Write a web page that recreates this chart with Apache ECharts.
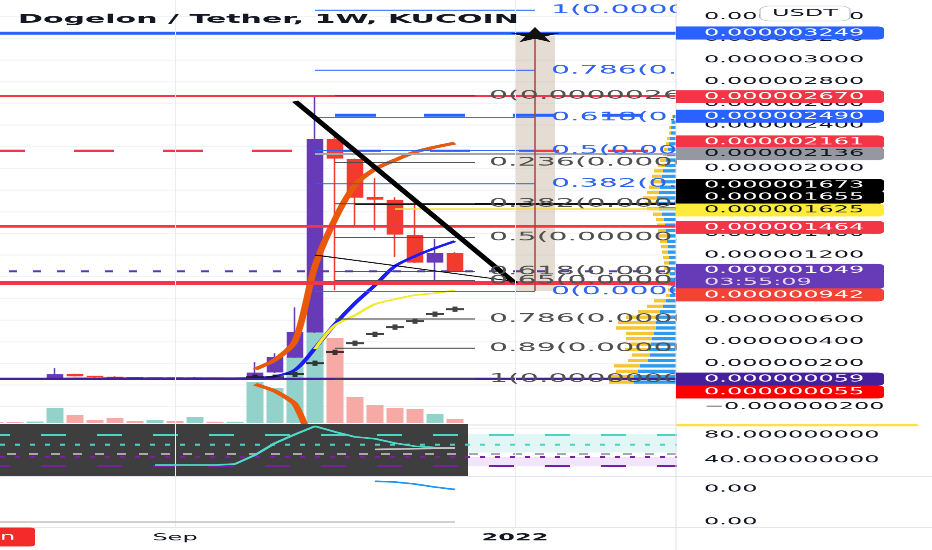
<!DOCTYPE html>
<html><head><meta charset="utf-8">
<script src="https://cdn.jsdelivr.net/npm/echarts@6/dist/echarts.min.js"></script>
<style>
html,body{margin:0;padding:0;width:932px;height:550px;overflow:hidden;background:#fff;}
#chart{width:932px;height:1375px;transform:scaleY(0.4);transform-origin:0 0;}
</style></head><body><div id="chart"></div>
<script>
// ---------- data ----------
const categories = ['2021-07-05','2021-07-12','2021-07-19','2021-07-26','2021-08-02','2021-08-09','2021-08-16','2021-08-23','2021-08-30','2021-09-06','2021-09-13','2021-09-20','2021-09-27','2021-10-04','2021-10-11','2021-10-18','2021-10-25','2021-11-01','2021-11-08','2021-11-15','2021-11-22','2021-11-29','2021-12-06','2021-12-13','2021-12-20','2021-12-27','2022-01-03','2022-01-10','2022-01-17','2022-01-24','2022-01-31','2022-02-07','2022-02-14','2022-02-21','2022-02-28'];
// prices in units of 1e-9 USDT
const opens  = [58,58,58,62,100,82,74,70,66,67,63,66,62,69,118,256,487,2268,2084,1733,1706,1383,1133,1216];
const closes = [55,56,60,98,82,74,70,66,67,63,66,62,64,112,256,487,2268,2093,1733,1714,1391,1133,1216,1049];
const lows   = [52,54,50,58,78,66,64,60,60,58,58,58,55,55,112,250,480,874,1476,1429,1180,1125,942,1040];
const highs  = [60,60,63,155,104,86,80,72,70,68,75,67,66,210,293,716,2666,2333,2090,1909,1733,1733,1346,1226];
const volumes = [1,1,1.5,15,8,3,5,2,3,2,6,1.3,1.3,41,35,66,105,85,26,18,15,14,9,4];
const emaBlue = [58,58,58,59,60,60,61,61,61,61,61,61,61,65,80,139,340,562,755,921,1097,1189,1263,1328];
const bandUpper = ['-','-','-','-','-','-','-','-','-','-','-','-','-',146,233,405,1097,1530,1845,1993,2076,2150,2196,2233];
const bandLower = ['-','-','-','-','-','-','-','-','-','-','-','-','-',7,-57,-177,-613];
const yellowLine = ['-','-','-','-','-','-','-','-','-','-','-','-','-','-','-','-',331,552,644,746,792,829,848,875];
const sarIdx = [13,14,15,16,17,18,19,20,21,22,23];
const sarValues = [72,72,100,201,303,386,469,534,590,654,700];
const levelValues = [3249,2670,2161,1464,1049,942,59];
const rayValues = [2490,2136,1673,1625];
const rayStart = [17,16,18,20];
const blueFibRatios = ['1','0.786','0.618','0.5','0.382','0'];
const blueFibLevels = [3461,2905,2470,2164,1857,866];
const blackFibRatios = ['0','0.236','0.382','0.5','0.618','0.65','0.786','0.89','1'];
const blackFibLevels = [2670,2054,1673,1362,1051,966,611,339,55];
const trendThick = [[15,2620],[26,940]];
const trendThin = [[16,1200],[26,955]];
const targetIdx = 27, targetLow = 866, targetHigh = 3249;
const tagValues = [3249,2670,2490,2161,2136,1673,1655,1625,1464,1049,942,59,55];
const tagSub = ['','','','','','','','','','03:55:09','','',''];
const priceTickLabels = [-200,0,200,400,600,800,1000,1200,1400,1600,1800,2000,2200,2400,2600,2800,3000,3200,3400];
const vpBins = ['0','50','100','150','200','250','300','350','400','450','500','550','600','650','700','750','800','850','900','950','1000','1050','1100','1150','1200','1250','1300','1350','1400','1450','1500','1550','1600','1650','1700','1750','1800','1850','1900','1950','2000','2050','2100','2150','2200','2250','2300','2350','2400','2450'];
const vpYellow = [25,25,22,26,20,18,24,22,26,28,40,38,32,22,16,12,4,3,3,3,4,5,5,6,6,7,7,8,8,8,8,9,12,13,14,12,11,10,10,9,7,6,4,4,3,3,2,2,1,1];
const vpBlue   = [42,42,38,36,28,26,27,25,24,22,20,20,18,16,13,10,6,5,5,6,6,7,7,7,8,8,9,9,10,11,12,14,17,18,19,17,16,15,14,13,11,10,9,8,7,6,5,5,4,3];
const rsiValues = ['-','-','-','-','-','-','-','-',32,32,32,32,33.6,48,67,81,94,85,77,74,67,62,60,59];
const rsiMA = ['-','-','-','-','-','-','-','-','-','-','-','-','-','-','-','-','-','-','-',57,57.5,58,58.5,59];
const rsiLevels = [80,65,50,45,30];
const rsiTickLabels = [40,80];
const lowerInd = ['-','-','-','-','-','-','-','-','-','-','-','-','-','-','-','-','-','-','-',0.002233,0.002212,0.00215,0.00206,0.001985];
const lowerBase = [0.001,0.001,0.001,0.001,0.001,0.001,0.001,0.001,0.001,0.001,0.001,0.001,0.001,0.001,0.001,0.001,0.001,0.001,0.001,0.001,0.001,0.001,0.001,0.001];
const lowerTickValues = [0.001,0.002];
const timeLabels = {9:'Sep', 26:'2022'};
const gridLineIdx = [9,26];

// ---------- styles ----------
const S = 2.5;               // vertical scale (page is squashed by CSS)
const Y = r => r * S;
const FONT = 'DejaVu Sans';
const TXT = '#131722';
const levelStyles = [
  {color:'#2962ff', width:7.5, type:'solid'},
  {color:'#f23645', width:6, type:'solid'},
  {color:'#f23645', width:6, type:[40,49]},
  {color:'#f23645', width:6, type:'solid'},
  {color:'#5e35b1', width:5, type:[8,16]},
  {color:'#f23645', width:9, type:'solid'},
  {color:'#45209a', width:6, type:'solid'}
];
const rayStyles = [
  {color:'#2962ff', width:7.5, type:[41,48]},
  {color:'#a3a6af', width:5, type:'solid'},
  {color:'#111111', width:6, type:'solid'},
  {color:'#f2e13a', width:3, type:'solid'}
];
const tagShift = [0,1,1,-9,0,-18.5,-8.5,1,1,-1,12,0.5,13];
const tagColors = ['#2962ff','#f23645','#2962ff','#f23645','#9598a1','#000000','#000000','#ffeb3b','#f23645','#673ab7','#f44336','#45209a','#ff0000'];
const tagTextColors = ['#fff','#fff','#fff','#fff',TXT,'#fff','#fff',TXT,'#fff','#fff','#fff','#fff','#fff'];
const rsiLevelStyles = [
  {color:'#4fd3c4', width:5, type:[25,31]},
  {color:'#4fd3c4', width:5, type:[5,10]},
  {color:'#a8a8a8', width:4, type:[9,13]},
  {color:'#7b1fa2', width:5, type:[5,10]},
  {color:'#7b1fa2', width:5, type:[25,31]}
];

function fmtPrice(v){ return (v<0?'\u2212':'') + (Math.abs(v)/1e9).toFixed(9); }

// ---------- markLines ----------
const mainML = [];
levelValues.forEach((v,i)=>mainML.push({yAxis:v, lineStyle:levelStyles[i]}));
rayValues.forEach((v,i)=>mainML.push([{coord:[categories[rayStart[i]],v], lineStyle:rayStyles[i]},{coord:[categories[34],v]}]));
blueFibLevels.forEach((v,i)=>mainML.push([
  {coord:[categories[16],v], lineStyle:{color:'#2962ff',width:2.5,type:'solid'},
   label:{show:true,position:'end',distance:16,formatter:blueFibRatios[i]+'('+fmtPrice(v)+')',color:'#2f63f0',fontSize:30,fontFamily:FONT}},
  {coord:[categories[27],v]}]));
blackFibLevels.forEach((v,i)=>mainML.push([
  {coord:[categories[17],v], lineStyle:{color:'#4a4a4a',width:2.5,type:'solid'},
   label:{show:true,position:'end',distance:14,formatter:blackFibRatios[i]+'('+fmtPrice(v)+')',color:'#505050',fontSize:30,fontFamily:FONT}},
  {coord:[categories[24],v]}]));
mainML.push([{coord:[categories[trendThick[0][0]],trendThick[0][1]], lineStyle:{color:'#000',width:7,type:'solid'}},{coord:[categories[trendThick[1][0]],trendThick[1][1]]}]);
mainML.push([{coord:[categories[trendThin[0][0]],trendThin[0][1]], lineStyle:{color:'#111',width:2.5,type:'solid'}},{coord:[categories[trendThin[1][0]],trendThin[1][1]]}]);
mainML.push([{coord:[categories[targetIdx],targetLow], lineStyle:{color:'#a5463b',width:1.5,type:'solid'}},{coord:[categories[targetIdx],targetHigh-20]}]);
const vGrid = gridLineIdx.map(i=>({xAxis:categories[i], lineStyle:{color:'#e9ecf2',width:1,type:'solid'}}));

const rsiML = rsiLevels.map((v,i)=>({yAxis:v, lineStyle:rsiLevelStyles[i]})).concat(vGrid);

const chart = echarts.init(document.getElementById('chart'), null, {renderer:'canvas'});
const baseGrid = {left:-15, width:700, containLabel:false, outerBoundsMode:'none'};

const option = {
  animation:false,
  backgroundColor:'#ffffff',
  textStyle:{fontFamily:FONT},
  title:{text:'Dogelon / Tether, 1W, KUCOIN', left:18, top:34, padding:0,
    textStyle:{fontSize:30, fontWeight:'bold', color:TXT, fontFamily:FONT}},
  grid:[
    Object.assign({}, baseGrid, {top:Y(-5), height:Y(433.33)}),
    Object.assign({}, baseGrid, {top:Y(293), height:Y(130)}),
    {left:560, width:116, top:Y(114.05), height:Y(270.75), containLabel:false, outerBoundsMode:'none'},
    Object.assign({}, baseGrid, {top:Y(422.5), height:Y(62.5)}),
    Object.assign({}, baseGrid, {top:Y(476), height:Y(51)})
  ],
  xAxis:[
    {type:'category', gridIndex:0, data:categories, show:false},
    {type:'category', gridIndex:1, data:categories, show:false},
    {type:'value', gridIndex:2, inverse:true, min:0, max:116, show:false},
    {type:'category', gridIndex:3, data:categories, show:false},
    {type:'category', gridIndex:4, data:categories, axisLine:{show:false}, axisTick:{show:false}, splitLine:{show:false},
      axisLabel:{interval:0, margin:15, fontSize:24, color:TXT, fontFamily:FONT,
        formatter:(v,i)=> timeLabels[i] ? (timeLabels[i]==='2022' ? '{b|2022}' : timeLabels[i]) : '',
        rich:{b:{fontWeight:'bold', fontSize:24, color:TXT, fontFamily:FONT}}}}
  ],
  yAxis:[
    {type:'value', gridIndex:0, position:'right', min:-400, max:3600, interval:200, z:10,
      axisLine:{show:false}, axisTick:{show:false}, splitLine:{show:false},
      axisLabel:{margin:19, fontSize:24, color:TXT, fontFamily:FONT,
        formatter:v=> priceTickLabels.indexOf(v)>=0 ? fmtPrice(v) : ''}},
    {type:'value', gridIndex:0, position:'left', min:-400, max:3600, interval:200,
      axisLine:{show:false}, axisTick:{show:false}, axisLabel:{show:false},
      splitLine:{show:true, lineStyle:{color:'#f1f3f7', width:2.5}}},
    {type:'value', gridIndex:1, min:0, max:130, show:false},
    {type:'category', gridIndex:2, data:vpBins, show:false},
    {type:'value', gridIndex:3, position:'right', min:0, max:100, interval:40, z:10,
      axisLine:{show:false}, axisTick:{show:false}, splitLine:{show:false},
      axisLabel:{margin:19, fontSize:24, color:TXT, fontFamily:FONT,
        formatter:v=> rsiTickLabels.indexOf(v)>=0 ? v.toFixed(9) : ''}},
    {type:'value', gridIndex:4, position:'right', min:0.000848, max:0.002394, z:10,
      axisLine:{show:false}, axisTick:{show:false}, splitLine:{show:false},
      axisLabel:{margin:19, fontSize:24, color:TXT, fontFamily:FONT, customValues:lowerTickValues,
        formatter:v=> v.toFixed(2)}}
  ],
  series:[
    {type:'candlestick', name:'DOGELON', xAxisIndex:0, yAxisIndex:0, z:2, barWidth:15,
      data: opens.map((o,i)=>[o, closes[i], lows[i], highs[i]]),
      itemStyle:{color:'#673ab7', color0:'#f23a2e', borderColor:'#673ab7', borderColor0:'#f23a2e', borderWidth:1.5},
      markLine:{silent:true, symbol:['none','none'], label:{show:false}, data: mainML.concat(vGrid)},
      markArea:{silent:true, itemStyle:{color:'rgba(208,192,174,0.55)'},
        data:[[{coord:[categories[targetIdx-1], targetLow]},{coord:[categories[targetIdx+1], targetHigh-25]}]]},
      markPoint:{silent:true, label:{show:false},
        data:[{coord:[categories[targetIdx], targetHigh], symbol:'path://M50,0 L61,35 L98,35 L68,57 L79,91 L50,70 L21,91 L32,57 L2,35 L39,35 Z',
          symbolSize:[52,38], symbolOffset:[0,4], itemStyle:{color:'#111'}}]}
    },
    {type:'line', name:'EMA', xAxisIndex:0, yAxisIndex:0, z:3, data:emaBlue, symbol:'none', smooth:0.3,
      lineStyle:{color:'#1c1cf5', width:5}},
    {type:'line', name:'Upper', xAxisIndex:0, yAxisIndex:0, z:3, data:bandUpper, symbol:'none', smooth:0.3,
      lineStyle:{color:'#e8590c', width:7}},
    {type:'line', name:'Lower', xAxisIndex:0, yAxisIndex:0, z:3, data:bandLower, symbol:'none', smooth:0.2,
      lineStyle:{color:'#e8590c', width:7}},
    {type:'line', name:'MA', xAxisIndex:0, yAxisIndex:0, z:3, data:yellowLine, symbol:'none', smooth:0.3,
      lineStyle:{color:'#f5ea2a', width:4}},
    {type:'scatter', name:'SAR', xAxisIndex:0, yAxisIndex:0, z:3,
      data: sarIdx.map((k,i)=>[k, sarValues[i]]),
      symbol:'path://M0,4 L18,4 L18,9 L0,9 Z M6.5,0 L11.5,0 L11.5,13 L6.5,13 Z', symbolSize:[18,13],
      itemStyle:{color:'#111'}},
    {type:'bar', name:'Volume', xAxisIndex:1, yAxisIndex:2, z:1, barWidth:17,
      data: volumes.map((v,i)=>({value:v, itemStyle:{color: closes[i]>=opens[i] ? '#93d2ca' : '#f7a9a6'}}))},
    {type:'bar', name:'VP up', xAxisIndex:2, yAxisIndex:3, stack:'vp', barCategoryGap:'40%', data:vpBlue,
      itemStyle:{color:'#2f9bef'}},
    {type:'bar', name:'VP down', xAxisIndex:2, yAxisIndex:3, stack:'vp', barCategoryGap:'40%', data:vpYellow,
      itemStyle:{color:'#f5c533'}},
    {type:'line', name:'RSI', xAxisIndex:3, yAxisIndex:4, z:5, data:rsiValues, symbol:'none',
      lineStyle:{color:'#4fd8c8', width:4},
      markLine:{silent:true, symbol:['none','none'], label:{show:false}, data:rsiML},
      markArea:{silent:true, data:[
        [{yAxis:82, itemStyle:{color:'#e2f7f5'}},{yAxis:52}],
        [{yAxis:45, itemStyle:{color:'#f1e5fb'}},{yAxis:30}]]}},
    {type:'line', name:'RSI MA', xAxisIndex:3, yAxisIndex:4, z:5, data:rsiMA, symbol:'none',
      lineStyle:{color:'#c4c4c4', width:4}},
    {type:'line', name:'Osc', xAxisIndex:4, yAxisIndex:5, z:5, data:lowerInd, symbol:'none',
      lineStyle:{color:'#2196f3', width:4},
      markLine:{silent:true, symbol:['none','none'], label:{show:false}, data:vGrid}},
    {type:'line', name:'Base', xAxisIndex:4, yAxisIndex:5, z:5, data:lowerBase, symbol:'none',
      lineStyle:{color:'#b5b5b5', width:3}},
    {type:'custom', name:'Tags', xAxisIndex:0, yAxisIndex:0, z:20,
      data: tagValues.map((v,i)=>[0, v]),
      renderItem:(params, api)=>{
        const i = params.dataIndex;
        const y = api.coord([0, tagValues[i]])[1] + tagShift[i]*S;
        const h = (tagSub[i] ? 25 : 13) * S;
        const ch = [
          {type:'rect', shape:{x:676, y:y-6.5*S, width:208, height:h, r:[0,6,6,0]}, style:{fill:tagColors[i]}},
          {type:'text', x:704, y:y, style:{text:fmtPrice(tagValues[i]), fill:tagTextColors[i], fontSize:24, fontFamily:FONT, verticalAlign:'middle', align:'left'}}
        ];
        if (tagSub[i]) ch.push({type:'text', x:704, y:y+12*S, style:{text:tagSub[i], fill:'#e3d7f7', fontSize:24, fontFamily:FONT, verticalAlign:'middle', align:'left'}});
        return {type:'group', children:ch};
      }}
  ],
  graphic:[
    {type:'rect', silent:true, z:4, shape:{x:0, y:Y(424), width:468, height:Y(52)}, style:{fill:'#3e3e3e'}},
    {type:'rect', silent:true, z:6, shape:{x:677, y:0, width:255, height:Y(550)}, style:{fill:'#ffffff'}},
    {type:'rect', silent:true, z:7, shape:{x:675.5, y:0, width:1, height:Y(550)}, style:{fill:'#dfe2ea'}},
    {type:'rect', silent:true, z:3, shape:{x:0, y:Y(424.5), width:932, height:2.5}, style:{fill:'#e3e6ec'}},
    {type:'rect', silent:true, z:7, shape:{x:0, y:Y(476), width:932, height:2.5}, style:{fill:'#e3e6ec'}},
    {type:'rect', silent:true, z:7, shape:{x:0, y:Y(527), width:932, height:2.5}, style:{fill:'#e3e6ec'}},
    {type:'rect', silent:true, z:25, shape:{x:676, y:Y(423.8), width:242, height:Y(2.6), r:3}, style:{fill:'#f7e24a'}},
    {type:'rect', silent:true, z:30, shape:{x:760, y:Y(6), width:90, height:Y(15), r:10}, style:{fill:'#ffffff', stroke:'#c9ccd3', lineWidth:1.5}},
    {type:'text', silent:true, z:31, x:805, y:Y(13.5), style:{text:'USDT', fill:TXT, fontSize:24, fontFamily:FONT, align:'center', verticalAlign:'middle'}},
    {type:'rect', silent:true, z:8, shape:{x:-4, y:Y(527.5), width:39, height:Y(19), r:5}, style:{fill:'#f42a2a'}},
    {type:'text', silent:true, z:9, x:0, y:Y(537), style:{text:'n', fill:'#ffffff', fontSize:24, fontFamily:FONT, verticalAlign:'middle'}}
  ]
};
chart.setOption(option);
</script></body></html>
